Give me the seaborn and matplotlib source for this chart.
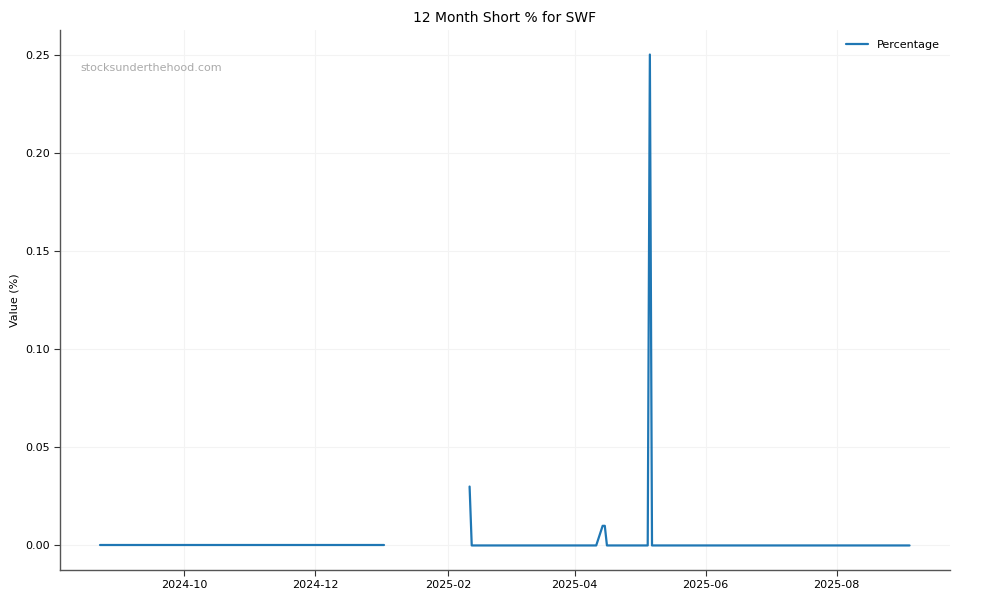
import pandas as pd
import numpy as np
import matplotlib
matplotlib.use("Agg")
import matplotlib.pyplot as plt
import matplotlib.dates as mdates
import seaborn as sns

# Segment 1 (before gap)
dates_a = ["2024-08-23", "2025-01-02"]
values_a = [0.0, 0.0]
# Segment 2 (after gap)
dates_b = ["2025-02-11", "2025-02-12", "2025-04-11", "2025-04-14", "2025-04-15",
           "2025-04-16", "2025-05-05", "2025-05-06", "2025-05-07", "2025-09-04"]
values_b = [0.03, 0.0, 0.0, 0.01, 0.01, 0.0, 0.0, 0.25, 0.0, 0.0]

title = "12 Month Short % for SWF"
ylabel = "Value (%)"
watermark = "stocksunderthehood.com"
series_label = "Percentage"

df_a = pd.DataFrame({"Date": pd.to_datetime(dates_a), "Value": values_a})
df_b = pd.DataFrame({"Date": pd.to_datetime(dates_b), "Value": values_b})

sns.set_style("whitegrid")
plt.rcParams["font.family"] = ["DejaVu Sans"]
plt.rcParams["text.color"] = "black"
plt.rcParams["axes.labelcolor"] = "black"
plt.rcParams["xtick.color"] = "black"
plt.rcParams["ytick.color"] = "black"

fig = plt.figure(figsize=(10, 6), dpi=100)
ax = fig.add_axes([0.06, 0.05, 0.89, 0.90])

color = "#1f77b4"
sns.lineplot(data=df_a, x="Date", y="Value", ax=ax, color=color, linewidth=1.6, label=series_label)
sns.lineplot(data=df_b, x="Date", y="Value", ax=ax, color=color, linewidth=1.6, legend=False)

ax.set_title(title, fontsize=10, color="black")
ax.set_ylabel(ylabel, fontsize=8, color="black")
ax.set_xlabel("")
ax.tick_params(axis="both", labelsize=8, length=4, color="#333333", labelcolor="black",
               left=True, bottom=True)
ax.grid(True, color="#f3f3f3", linewidth=0.8)
for s in ["top", "right"]:
    ax.spines[s].set_visible(False)
for s in ["left", "bottom"]:
    ax.spines[s].set_color("#555555")
    ax.spines[s].set_linewidth(1.0)

ax.xaxis.set_major_locator(mdates.MonthLocator(bymonth=[2, 4, 6, 8, 10, 12]))
ax.xaxis.set_major_formatter(mdates.DateFormatter("%Y-%m"))
ax.set_yticks([0.0, 0.05, 0.10, 0.15, 0.20, 0.25])
ax.yaxis.set_major_formatter(matplotlib.ticker.FormatStrFormatter("%.2f"))

ax.text(0.023, 0.93, watermark, transform=ax.transAxes, fontsize=8, color="#aaaaaa",
        va="center", ha="left")

leg = ax.legend(loc="upper right", fontsize=8, frameon=False)
for t in leg.get_texts():
    t.set_color("black")

fig.savefig("out.png", dpi=100)
